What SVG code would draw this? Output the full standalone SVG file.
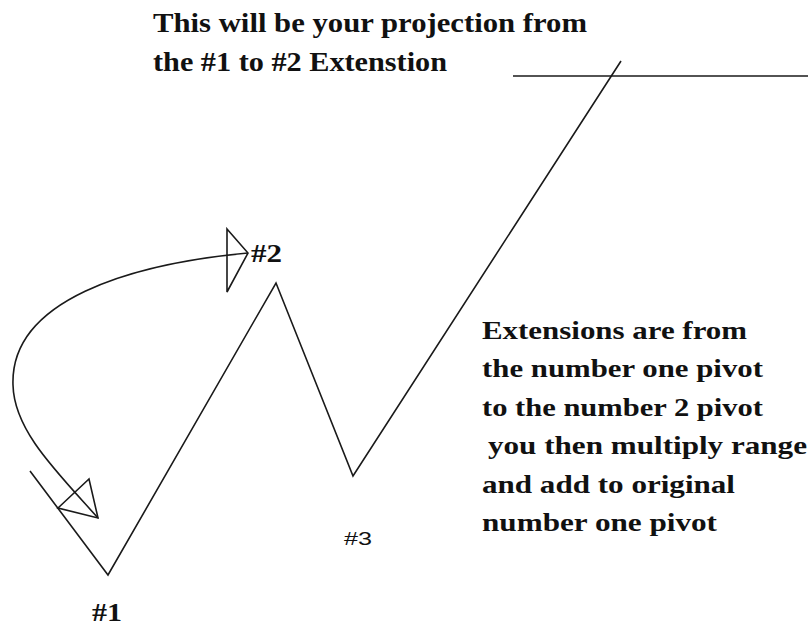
<svg xmlns="http://www.w3.org/2000/svg" width="808" height="626" viewBox="0 0 808 626">
<style>
.ln{fill:none;stroke:#1a1a1a;stroke-width:1.6;stroke-linejoin:miter}
.bt{font-family:"Liberation Serif",serif;font-weight:bold;fill:#111}
.t1{font-size:27px}
.t2{font-size:26px}
.lb{font-size:25px}
.sm{font-family:"Liberation Sans",sans-serif;font-size:19px;fill:#111}
</style>
<rect width="808" height="626" fill="#fff"/>
<g id="connectors">
<polyline class="ln" points="30,471 108,575 276,283 353,476 621,61"/>
<line class="ln" x1="513" y1="76" x2="808" y2="76"/>
<path class="ln" d="M248,253 C130,264 10,300 13,385 C14,430 55,470 98,518"/>
<polygon class="ln" points="227,229 248,253 227,292"/>
<polygon class="ln" points="58,508 89,479 98,518"/>
</g>
<g id="title">
<text class="bt t1" x="153" y="32" textLength="434" lengthAdjust="spacingAndGlyphs">This will be your projection from</text>
<text class="bt t1" x="153" y="71" textLength="294" lengthAdjust="spacingAndGlyphs">the #1 to #2 Extenstion</text>
</g>
<g id="note">
<text class="bt t2" x="482" y="339" textLength="265" lengthAdjust="spacingAndGlyphs">Extensions are from</text>
<text class="bt t2" x="482" y="377" textLength="281" lengthAdjust="spacingAndGlyphs">the number one pivot</text>
<text class="bt t2" x="482" y="416" textLength="281" lengthAdjust="spacingAndGlyphs">to the number 2 pivot</text>
<text class="bt t2" x="488" y="454" textLength="319" lengthAdjust="spacingAndGlyphs">you then multiply range</text>
<text class="bt t2" x="482" y="493" textLength="253" lengthAdjust="spacingAndGlyphs">and add to original</text>
<text class="bt t2" x="482" y="531" textLength="235" lengthAdjust="spacingAndGlyphs">number one pivot</text>
</g>
<g id="pivot1"><text class="bt lb" x="92" y="621" textLength="30" lengthAdjust="spacingAndGlyphs">#1</text></g>
<g id="pivot2"><text class="bt lb" x="251" y="262" textLength="31" lengthAdjust="spacingAndGlyphs">#2</text></g>
<g id="pivot3"><text class="sm" x="344" y="545" textLength="28" lengthAdjust="spacingAndGlyphs">#3</text></g>
</svg>
